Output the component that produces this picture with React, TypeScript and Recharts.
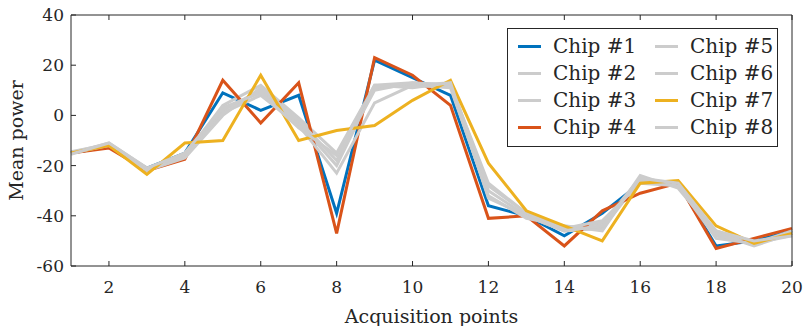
import { LineChart, Line, XAxis, YAxis, Legend } from "recharts";

const points = [1, 2, 3, 4, 5, 6, 7, 8, 9, 10, 11, 12, 13, 14, 15, 16, 17, 18, 19, 20];
const xTicks = [2, 4, 6, 8, 10, 12, 14, 16, 18, 20];
const yTicks = [-60, -40, -20, 0, 20, 40];

const chip1 = [-15, -12.5, -21, -15, 9, 2, 8, -39, 22, 15, 8, -36, -40, -48, -39, -27, -27, -52, -50, -46];
const chip2 = [-15, -11, -21, -16, 4, 12, -1, -15, 12, 13, 12, -27, -39, -45, -43, -25, -28, -46, -51, -47];
const chip3 = [-15, -12, -22, -15, 2, 10, -3, -20, 11, 12, 13, -30, -40, -46, -45, -26, -27, -48, -51, -48];
const chip4 = [-15, -13, -22, -17.5, 14, -3, 13, -47, 23, 16, 4, -41, -40, -52, -38, -31, -27, -53, -49, -45];
const chip5 = [-14.5, -11.5, -21.5, -16, 1, 8, -4, -23, 5, 12, 11, -32, -41, -44, -46, -24, -29, -47, -52, -47];
const chip6 = [-15, -12, -22, -17, 0, 11, -2, -18, 10, 13, 12, -28, -39, -45, -42, -27, -28, -49, -51, -46];
const chip7 = [-15, -12, -23.5, -11, -10, 16, -10, -6, -4, 6, 14, -19, -38, -44, -50, -27, -26, -44, -51, -47];
const chip8 = [-15.5, -11, -21, -15, 3, 9, -5, -16, 12, 11, 13, -33, -40, -46, -44, -25, -27, -46, -50, -48];

const series = [
  { key: "c1", name: "Chip #1", values: chip1, color: "#0072BD" },
  { key: "c2", name: "Chip #2", values: chip2, color: "#CCCCCC" },
  { key: "c3", name: "Chip #3", values: chip3, color: "#CCCCCC" },
  { key: "c4", name: "Chip #4", values: chip4, color: "#D95319" },
  { key: "c5", name: "Chip #5", values: chip5, color: "#CCCCCC" },
  { key: "c6", name: "Chip #6", values: chip6, color: "#CCCCCC" },
  { key: "c7", name: "Chip #7", values: chip7, color: "#EDB120" },
  { key: "c8", name: "Chip #8", values: chip8, color: "#CCCCCC" },
];

const data = points.map((x, i) => {
  const row: Record<string, number> = { x };
  series.forEach((s) => (row[s.key] = s.values[i]));
  return row;
});

const INK = "#262626";
const FONT = "DejaVu Serif";

// matlab-style ticks point into the plot box
const BottomTick = ({ x, y, payload }: any) => (
  <g>
    <line x1={x} x2={x} y1={y} y2={y - 5} stroke={INK} />
    <text x={x} y={y + 27} textAnchor="middle" fill={INK} fontSize={17} fontFamily={FONT}>
      {payload.value}
    </text>
  </g>
);

const TopTick = ({ x, y }: any) => <line x1={x} x2={x} y1={y} y2={y + 5} stroke={INK} />;

const LeftTick = ({ x, y, payload }: any) => (
  <g>
    <line x1={x} x2={x + 5} y1={y} y2={y} stroke={INK} />
    <text x={x - 7} y={y + 6} textAnchor="end" fill={INK} fontSize={17} fontFamily={FONT}>
      {payload.value}
    </text>
  </g>
);

const RightTick = ({ x, y }: any) => <line x1={x} x2={x - 5} y1={y} y2={y} stroke={INK} />;

const LegendBox = () => (
  <div
    style={{
      border: `1px solid ${INK}`,
      background: "#fff",
      boxSizing: "border-box",
      width: 271,
      height: 119,
      display: "grid",
      gridTemplateRows: "repeat(4, 27px)",
      gridAutoFlow: "column",
      gridTemplateColumns: "137px 132px",
      paddingTop: 4,
    }}
  >
    {series.map((s) => (
      <div key={s.key} style={{ display: "flex", alignItems: "center", paddingLeft: 10 }}>
        <span style={{ display: "inline-block", width: 23, height: 3, background: s.color, marginRight: 12 }} />
        <span style={{ fontFamily: FONT, fontSize: 20, color: INK, lineHeight: "27px" }}>{s.name}</span>
      </div>
    ))}
  </div>
);

export default function App() {
  return (
    <div style={{ position: "absolute", left: 0, top: 0, width: 806, height: 326, background: "#fff" }}>
      <LineChart width={806} height={326} data={data} margin={{ top: 0, right: 0, bottom: 0, left: 0 }}>
        <XAxis
          dataKey="x"
          type="number"
          domain={[1, 20]}
          ticks={xTicks}
          height={60}
          tickSize={0}
          tickMargin={0}
          tick={<BottomTick />}
          axisLine={{ stroke: INK }}
          label={{
            value: "Acquisition points",
            position: "insideBottom",
            offset: 3,
            fill: INK,
            fontSize: 19,
            fontFamily: FONT,
          }}
        />
        <XAxis
          xAxisId="top"
          orientation="top"
          dataKey="x"
          type="number"
          domain={[1, 20]}
          ticks={xTicks}
          height={15}
          tickSize={0}
          tickMargin={0}
          tick={<TopTick />}
          axisLine={{ stroke: INK }}
        />
        <YAxis
          type="number"
          domain={[-60, 40]}
          ticks={yTicks}
          width={71}
          tickSize={0}
          tickMargin={0}
          tick={<LeftTick />}
          axisLine={{ stroke: INK }}
          label={{
            value: "Mean power",
            angle: -90,
            position: "insideLeft",
            offset: 16,
            style: { textAnchor: "middle" },
            fill: INK,
            fontSize: 19,
            fontFamily: FONT,
          }}
        />
        <YAxis
          yAxisId="right"
          orientation="right"
          type="number"
          domain={[-60, 40]}
          ticks={yTicks}
          width={14}
          tickSize={0}
          tickMargin={0}
          tick={<RightTick />}
          axisLine={{ stroke: INK }}
        />
        {series.map((s) => (
          <Line
            key={s.key}
            dataKey={s.key}
            name={s.name}
            type="linear"
            stroke={s.color}
            strokeWidth={3}
            dot={false}
            activeDot={false}
            isAnimationActive={false}
          />
        ))}
        <Legend
          layout="vertical"
          align="center"
          verticalAlign="middle"
          content={<LegendBox />}
          wrapperStyle={{ left: 507, top: 28, width: 271, height: 119 }}
        />
      </LineChart>
    </div>
  );
}
